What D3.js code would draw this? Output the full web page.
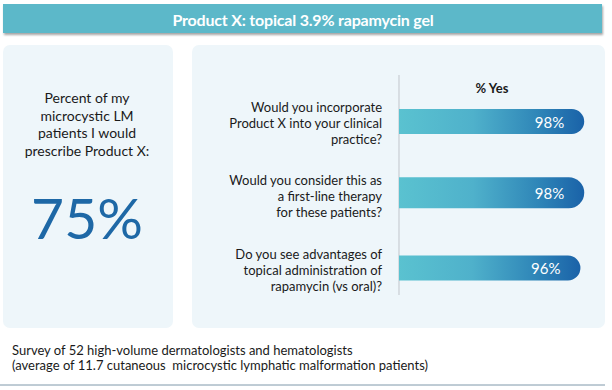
<!DOCTYPE html>
<html><head><meta charset="utf-8">
<script src="https://cdn.jsdelivr.net/npm/d3@7"></script>
<style>html,body{margin:0;padding:0;background:#fff;} svg{display:block;}</style>
</head><body>
<svg id="c" width="612" height="390"></svg>
<script>
const title = "Product X: topical 3.9% rapamycin gel";
const headlineLabel = ["Percent of my", "microcystic LM", "patients I would", "prescribe Product X:"];
const headlineValue = 75;
const columnHeader = "% Yes";
const questions = [
  ["Would you incorporate", "Product X into your clinical", "practice?"],
  ["Would you consider this as", "a first-line therapy", "for these patients?"],
  ["Do you see advantages of", "topical administration of", "rapamycin (vs oral)?"]
];
const yesValues = [98, 98, 96];
const footnote = [
  "Survey of 52 high-volume dermatologists and hematologists",
  "(average of 11.7 cutaneous  microcystic lymphatic malformation patients)"
];

const FONT = "Lato, 'Open Sans', sans-serif";
const svg = d3.select("#c");
const defs = svg.append("defs");

const sh = defs.append("filter").attr("id","sh").attr("x","-5%").attr("y","-30%").attr("width","110%").attr("height","180%");
sh.append("feDropShadow").attr("dx",1).attr("dy",2).attr("stdDeviation",1.2).attr("flood-color","#000").attr("flood-opacity",0.35);

const grad = defs.append("linearGradient").attr("id","bg").attr("x1","0%").attr("x2","100%");
grad.append("stop").attr("offset","0%").attr("stop-color","#5ac2d0");
grad.append("stop").attr("offset","40%").attr("stop-color","#4fb1cb");
grad.append("stop").attr("offset","75%").attr("stop-color","#2f86b8");
grad.append("stop").attr("offset","100%").attr("stop-color","#1a62a8");

// Header band
svg.append("rect").attr("x",3).attr("y",4).attr("width",599).attr("height",29)
  .attr("fill","#5bb8c9").attr("filter","url(#sh)");
svg.append("text").attr("x",303).attr("y",19).attr("text-anchor","middle").attr("dominant-baseline","central")
  .attr("font-family",FONT).attr("font-weight","bold").attr("font-size",16).attr("fill","#fff")
  .attr("letter-spacing",-0.2).text(title);

// Panels
svg.append("rect").attr("x",3).attr("y",45).attr("width",170).attr("height",283).attr("rx",7).attr("fill","#eef6fa");
svg.append("rect").attr("x",192).attr("y",45).attr("width",413).attr("height",283).attr("rx",7).attr("fill","#eef6fa");

// Left panel text
svg.append("g").selectAll("text").data(headlineLabel).join("text")
  .attr("x",87).attr("y",(d,i)=>97.5+i*17.5).attr("text-anchor","middle").attr("dominant-baseline","central")
  .attr("font-family",FONT).attr("font-size",14).attr("fill","#1a1a1a").text(d=>d);
svg.append("text").attr("x",87).attr("y",217).attr("text-anchor","middle").attr("dominant-baseline","central")
  .attr("font-family",FONT).attr("font-size",57).attr("fill","#1e68a6").text(d3.format("d")(headlineValue)+"%");

// Right panel chart
const x = d3.scaleLinear().domain([0,100]).range([399,588]);
const y = d3.scalePoint().domain(d3.range(questions.length)).range([121.5,268]);
const thick = i => i===1 ? 31 : 25;

svg.append("line").attr("x1",399).attr("x2",399).attr("y1",75).attr("y2",295)
  .attr("stroke","#c9ced3").attr("stroke-width",1.2);
svg.append("text").attr("x",492).attr("y",88).attr("text-anchor","middle").attr("dominant-baseline","central")
  .attr("font-family",FONT).attr("font-weight","bold").attr("font-size",13).attr("fill","#1a1a1a").text(columnHeader);

const bars = svg.append("g").selectAll("g").data(yesValues).join("g");
bars.append("path").attr("fill","url(#bg)").attr("d",(d,i)=>{
  const h = thick(i), r = h/2, x0 = x(0), x1 = x(d), yc = y(i) - (i===1?2:0);
  return `M${x0},${yc-r}H${x1-r}A${r},${r} 0 0 1 ${x1-r},${yc+r}H${x0}Z`;
});
bars.append("text").attr("x",d=>x(d)-20).attr("y",(d,i)=>y(i)-(i===1?2:0)).attr("text-anchor","end")
  .attr("dominant-baseline","central").attr("font-family",FONT).attr("font-size",15).attr("fill","#fff")
  .text(d=>d+"%");

const qg = svg.append("g").selectAll("g").data(questions).join("g");
qg.selectAll("text").data((d,i)=>d.map((t,j)=>({t,j,i,n:d.length}))).join("text")
  .attr("x",382).attr("y",d=>y(d.i)+1.5+(d.j-(d.n-1)/2)*16)
  .attr("text-anchor","end").attr("dominant-baseline","central")
  .attr("font-family",FONT).attr("font-size",13).attr("fill","#1a1a1a").text(d=>d.t);

// Footnote
svg.append("g").selectAll("text").data(footnote).join("text")
  .attr("x",12).attr("y",(d,i)=>350+i*15).attr("dominant-baseline","central")
  .attr("font-family",FONT).attr("font-size",13).attr("fill","#1a1a1a").attr("xml:space","preserve").text(d=>d);
svg.append("line").attr("x1",0).attr("x2",605).attr("y1",385).attr("y2",385).attr("stroke","#7f98aa").attr("stroke-width",1);
</script>
</body></html>
